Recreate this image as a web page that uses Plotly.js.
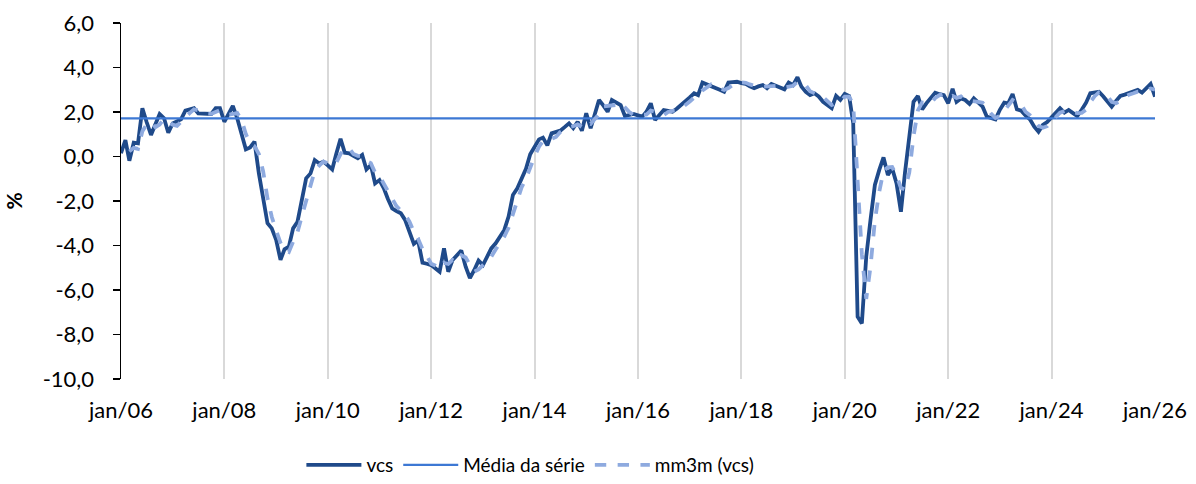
<!DOCTYPE html>
<html>
<head>
<meta charset="utf-8">
<script src="https://cdn.plot.ly/plotly-3.0.1.min.js"></script>
<style>html,body{margin:0;padding:0;background:#fff;}#chart{width:1196px;height:484px;}</style>
</head>
<body>
<div id="chart"></div>
<script>
// Monthly series, jan/2006 .. jan/2026
const startYear = 2006;
const vcs = [
 0.15, 0.74,-0.19, 0.62, 0.59, 2.17, 1.55, 0.97, 1.45, 1.91, 1.72, 1.07,
 1.49, 1.58, 1.67, 2.06, 2.12, 2.17, 1.94, 1.93, 1.92, 1.91, 2.17, 2.17,
 1.56, 1.90, 2.27, 1.72, 1.00, 0.32, 0.41, 0.67,-0.76,-1.90,-3.00,-3.23,
-3.75,-4.65,-4.17,-4.05,-3.23,-2.93,-1.95,-0.98,-0.76,-0.16,-0.31,-0.23,
-0.40,-0.58, 0.10, 0.80, 0.17, 0.14, 0.03,-0.08, 0.07,-0.58,-0.38,-1.21,
-1.06,-1.43,-1.90,-2.33,-2.45,-2.55,-2.85,-3.40,-3.93,-3.78,-4.77,-4.82,
-4.88,-5.03,-5.18,-4.13,-5.18,-4.65,-4.45,-4.23,-4.95,-5.47,-5.10,-4.68,
-4.88,-4.50,-4.13,-3.90,-3.60,-3.30,-2.70,-1.73,-1.43,-1.00,-0.55, 0.10,
 0.45, 0.77, 0.85, 0.50, 1.04, 1.10, 1.16, 1.32, 1.49, 1.27, 1.56, 1.16,
 1.94, 1.27, 1.90, 2.54, 2.30, 2.01, 2.54, 2.40, 2.31, 1.82, 1.87, 1.91,
 1.85, 1.79, 2.01, 2.39, 1.64, 1.85, 2.09, 2.05, 2.01, 2.15, 2.31, 2.45,
 2.66, 2.84, 2.76, 3.32, 3.25, 3.14, 3.07, 3.00, 2.91, 3.32, 3.34, 3.36,
 3.30, 3.26, 3.15, 3.07, 3.15, 3.21, 3.07, 3.26, 3.18, 3.10, 3.02, 3.32,
 3.21, 3.56, 3.14, 2.90, 2.76, 2.84, 2.70, 2.46, 2.30, 2.17, 2.72, 2.54,
 2.81, 2.72, 1.50,-7.20,-7.50,-4.50,-2.85,-1.28,-0.60,-0.04,-0.83,-0.53,
-1.21,-2.48,-0.76, 1.04, 2.46, 2.72, 2.12, 2.40, 2.61, 2.87, 2.80, 2.76,
 2.39, 3.04, 2.46, 2.61, 2.54, 2.36, 2.61, 2.40, 2.24, 1.79, 1.72, 1.67,
 2.10, 2.42, 2.39, 2.81, 2.12, 2.06, 1.85, 1.67, 1.34, 1.11, 1.42, 1.55,
 1.76, 1.97, 2.17, 1.97, 2.09, 1.95, 1.82, 2.10, 2.42, 2.84, 2.88, 2.91,
 2.70, 2.45, 2.24, 2.50, 2.72, 2.78, 2.84, 2.90, 2.99, 2.87, 3.05, 3.26,
 2.69
];
const mm3m = [
 null, null, 0.23, 0.39, 0.34, 1.13, 1.44, 1.56, 1.32, 1.44, 1.69, 1.57,
 1.43, 1.38, 1.58, 1.77, 1.95, 2.12, 2.08, 2.01, 1.93, 1.92, 2.00, 2.08,
 1.97, 1.88, 1.91, 1.96, 1.66, 1.01, 0.58, 0.47, 0.11,-0.66,-1.89,-2.71,
-3.33,-3.88,-4.19,-4.29,-3.82,-3.40,-2.70,-1.95,-1.23,-0.63,-0.41,-0.23,
-0.31,-0.40,-0.29, 0.11, 0.36, 0.37, 0.11, 0.03, 0.01,-0.20,-0.30,-0.72,
-0.88,-1.23,-1.46,-1.89,-2.23,-2.44,-2.62,-2.93,-3.39,-3.70,-4.16,-4.46,
-4.82,-4.91,-5.03,-4.78,-4.83,-4.65,-4.76,-4.44,-4.54,-4.88,-5.17,-5.08,
-4.89,-4.69,-4.50,-4.18,-3.88,-3.60,-3.20,-2.58,-1.95,-1.39,-0.99,-0.48,
 0.00, 0.44, 0.69, 0.71, 0.80, 0.88, 1.10, 1.19, 1.32, 1.36, 1.44, 1.33,
 1.55, 1.46, 1.70, 1.90, 2.25, 2.28, 2.28, 2.32, 2.42, 2.18, 2.00, 1.87,
 1.88, 1.85, 1.88, 2.06, 2.01, 1.96, 1.86, 2.00, 2.05, 2.07, 2.16, 2.30,
 2.47, 2.65, 2.75, 2.97, 3.11, 3.24, 3.15, 3.07, 2.99, 3.08, 3.19, 3.34,
 3.33, 3.31, 3.24, 3.16, 3.12, 3.14, 3.14, 3.18, 3.17, 3.18, 3.10, 3.15,
 3.18, 3.36, 3.30, 3.20, 2.93, 2.83, 2.77, 2.67, 2.49, 2.31, 2.40, 2.48,
 2.69, 2.69, 2.34,-0.99,-4.40,-6.40,-4.95,-2.88,-1.58,-0.64,-0.49,-0.47,
-0.86,-1.41,-1.48,-0.73, 0.91, 2.07, 2.43, 2.41, 2.38, 2.63, 2.76, 2.81,
 2.65, 2.73, 2.63, 2.70, 2.54, 2.50, 2.50, 2.46, 2.42, 2.14, 1.92, 1.73,
 1.83, 2.06, 2.30, 2.54, 2.44, 2.33, 2.01, 1.86, 1.62, 1.37, 1.29, 1.36,
 1.58, 1.76, 1.97, 2.04, 2.08, 2.00, 1.95, 1.96, 2.11, 2.45, 2.71, 2.88,
 2.83, 2.69, 2.46, 2.40, 2.49, 2.67, 2.78, 2.84, 2.91, 2.92, 2.97, 3.06,
 3.00
];
const mediaSerie = 1.71;
const xTickLabels = ['jan/06','jan/08','jan/10','jan/12','jan/14','jan/16','jan/18','jan/20','jan/22','jan/24','jan/26'];
const xTickDates = ['2006-01-01','2008-01-01','2010-01-01','2012-01-01','2014-01-01','2016-01-01','2018-01-01','2020-01-01','2022-01-01','2024-01-01','2026-01-01'];
const yTickVals = [-10, -8, -6, -4, -2, 0, 2, 4, 6];
const yTickLabels = ['-10,0','-8,0','-6,0','-4,0','-2,0','0,0','2,0','4,0','6,0'];
const seriesNames = ['vcs','Média da série','mm3m (vcs)'];

const dates = vcs.map((_, i) => {
  const y = startYear + Math.floor(i / 12);
  const m = (i % 12) + 1;
  return y + '-' + String(m).padStart(2, '0') + '-01';
});

const FONT = 'Lato, "Open Sans", "DejaVu Sans", sans-serif';

const traces = [
  {x: dates, y: vcs, name: seriesNames[0], type: 'scatter', mode: 'lines',
   line: {color: '#1F4A8A', width: 3.8}},
  {x: [dates[0], dates[dates.length-1]], y: [mediaSerie, mediaSerie], name: seriesNames[1], type: 'scatter', mode: 'lines',
   line: {color: '#3D78D4', width: 2.2}},
  {x: dates, y: mm3m, name: seriesNames[2], type: 'scatter', mode: 'lines',
   line: {color: '#8EAADF', width: 3.8, dash: 'dash'}}
];

const layout = {
  width: 1196, height: 484,
  margin: {l: 121, r: 41, t: 23, b: 105},
  paper_bgcolor: '#ffffff', plot_bgcolor: '#ffffff',
  font: {family: FONT, size: 22, color: '#000000'},
  showlegend: true,
  legend: {orientation: 'h', xref: 'container', yref: 'container',
           x: 0.252, xanchor: 'left', y: 1 - 465/484, yanchor: 'middle',
           itemwidth: 55,
           font: {family: FONT, size: 19, color: '#000'}, tracegroupgap: 0},
  xaxis: {
    type: 'date', range: ['2006-01-01', '2026-01-01'], automargin: false,
    tickmode: 'array', tickvals: xTickDates, ticktext: xTickLabels,
    showgrid: true, gridcolor: '#D9D9D9', gridwidth: 2,
    showline: false, zeroline: false, ticks: '',
    ticklabelstandoff: 16,
    tickfont: {family: FONT, size: 22, color: '#000'}
  },
  yaxis: {
    range: [-10, 6], automargin: false,
    tickmode: 'array', tickvals: yTickVals, ticktext: yTickLabels,
    showgrid: false, zeroline: false,
    showline: true, linecolor: '#000000', linewidth: 1.5,
    ticks: 'outside', ticklen: 7, tickcolor: '#000', tickwidth: 1.5,
    ticklabelstandoff: 14,
    tickfont: {family: FONT, size: 22, color: '#000'},
    title: {text: '<b>%</b>', font: {family: FONT, size: 21, color: '#000'}, standoff: 14}
  }
};

Plotly.newPlot('chart', traces, layout, {displayModeBar: false, staticPlot: true});
</script>
</body>
</html>
